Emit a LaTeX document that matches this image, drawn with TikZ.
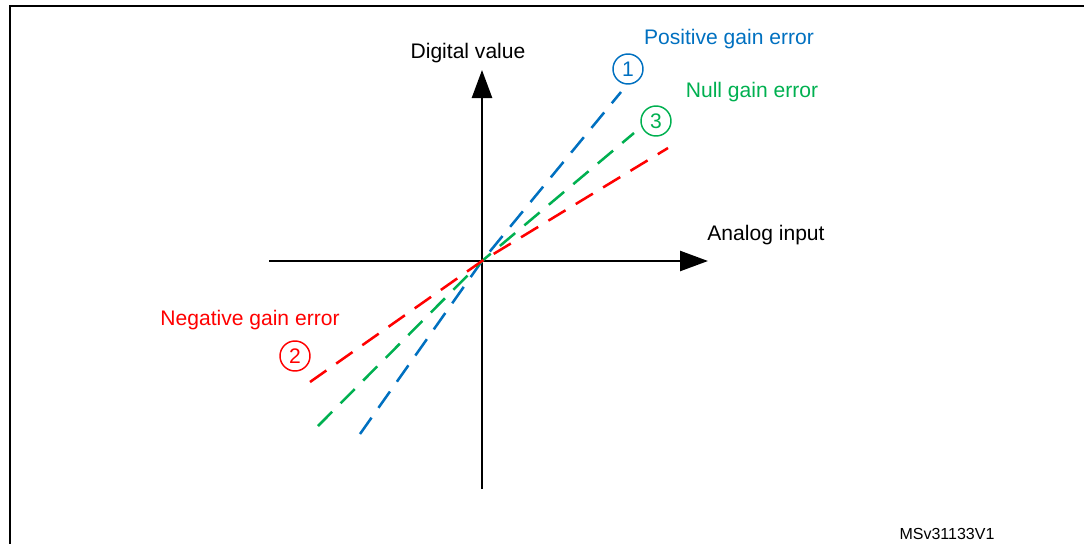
\documentclass[tikz,border=0pt]{standalone}
\usepackage{fontspec}
\setmainfont{Liberation Sans}
\usepackage{xcolor}
\usepackage{tikz}
\usetikzlibrary{arrows,arrows.meta}
\definecolor{posblue}{RGB}{0,112,192}
\definecolor{nullgreen}{RGB}{0,176,80}
\definecolor{negred}{RGB}{255,0,0}
\tikzset{
  axisline/.style={line width=1.9pt,-{Triangle[length=21pt,width=15pt]}},
  gainline/.style={line width=1.9pt,dash pattern=on 15pt off 9pt},
  lbl/.style={font=\fontsize{15.8}{18}\selectfont,inner sep=0pt},
  numcirc/.style={circle,draw,line width=1.1pt,minimum size=22.5pt,inner sep=0pt,font=\fontsize{15.8}{18}\selectfont}
}

\begin{document}
\begin{tikzpicture}[x=0.75pt,y=-0.75pt]
\useasboundingbox (0,0) rectangle (1084,543);
\clip (0,0) rectangle (1084,543);
\draw[line width=1.8pt] (10,560)--(10,6)--(1100,6);
% axes
\coordinate (o) at (482,261);
\coordinate (xs) at (269,261);
\coordinate (xe) at (708,261);
\coordinate (ys) at (482,489);
\coordinate (ye) at (482,70);
\draw[axisline] (xs)--(xe);
\draw[axisline] (ys)--(ye);
\node[lbl] (ylab) at (468,53) {Digital value};
\node[lbl] (xlab) at (766,235) {Analog input};
% gain lines
\coordinate (b1) at (360,434);
\coordinate (b2) at (621,92);
\coordinate (g1) at (318,426);
\coordinate (g2) at (634,133);
\coordinate (r1) at (310,382);
\coordinate (r2) at (668,148);
\draw[gainline,posblue] (b1)--(o)--(b2);
\draw[gainline,nullgreen] (g1)--(o)--(g2);
\draw[gainline,negred] (r1)--(o)--(r2);
% labels
\node[numcirc,posblue] (c1) at (628,69) {1};
\node[numcirc,negred] (c2) at (295,356) {2};
\node[numcirc,nullgreen] (c3) at (656,121) {3};
\node[lbl,posblue] (poslab) at (729,39) {Positive gain error};
\node[lbl,nullgreen] (nulllab) at (752,92) {Null gain error};
\node[lbl,negred] (neglab) at (250,320) {Negative gain error};
\node[lbl,font=\fontsize{12}{14}\selectfont] (ref) at (947,534) {MSv31133V1};
\end{tikzpicture}
\end{document}
